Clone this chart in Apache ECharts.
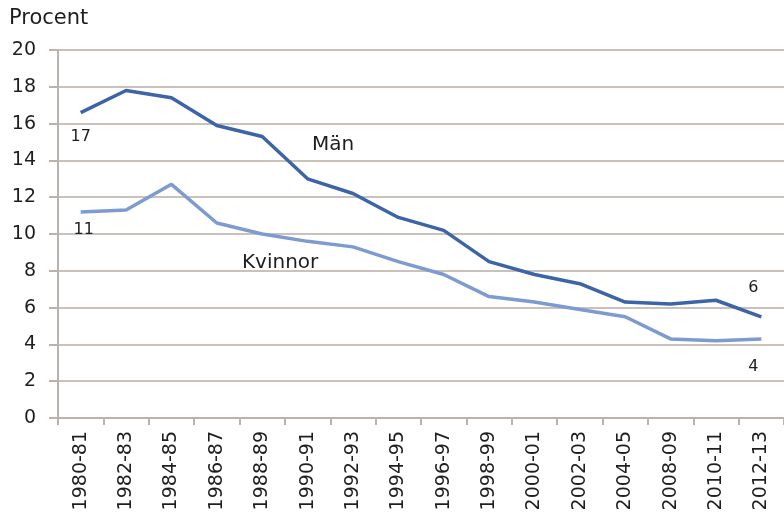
<!DOCTYPE html>
<html>
<head>
<meta charset="utf-8">
<script src="https://cdn.jsdelivr.net/npm/echarts@6/dist/echarts.min.js"></script>
<style>
  html, body { margin: 0; padding: 0; background: #fff; }
  #chart { width: 784px; height: 516px; }
</style>
</head>
<body>
<div id="chart"></div>
<script>
// perioder
const periods = ['1980-81', '1982-83', '1984-85', '1986-87', '1988-89', '1990-91', '1992-93', '1994-95',
  '1996-97', '1998-99', '2000-01', '2002-03', '2004-05', '2008-09', '2010-11', '2012-13'];
// andel i procent
const man = [16.6, 17.8, 17.4, 15.9, 15.3, 13.0, 12.2, 10.9, 10.2, 8.5, 7.8, 7.3, 6.3, 6.2, 6.4, 5.5];
const kvinnor = [11.2, 11.3, 12.7, 10.6, 10.0, 9.6, 9.3, 8.5, 7.8, 6.6, 6.3, 5.9, 5.5, 4.3, 4.2, 4.3];
const yTicks = ['0', '2', '4', '6', '8', '10', '12', '14', '16', '18', '20'];

const font = 'DejaVu Sans, Arial, sans-serif';
const txt = '#1e1e1e';

(function () {
  let myChart = echarts.init(document.getElementById('chart'));

  // etiketter vid första och sista punkten
  function withEnds(arr, first, last) {
    return arr.map(function (v, i) {
      if (i === 0) {
        return { value: v, label: Object.assign({ show: true, position: 'bottom', color: txt, fontSize: 16, fontFamily: font }, first) };
      }
      if (i === arr.length - 1) {
        return { value: v, label: Object.assign({ show: true, color: txt, fontSize: 16, fontFamily: font }, last) };
      }
      return v;
    });
  }

  const option = {
    animation: false,
    grid: { left: 58, right: 0, top: 50, bottom: 98 },
    xAxis: {
      type: 'category',
      data: periods,
      boundaryGap: true,
      axisLine: { lineStyle: { color: '#b9b2ad', width: 2 } },
      axisTick: { show: true, length: 7, lineStyle: { color: '#b9b2ad', width: 2 } },
      axisLabel: { rotate: 90, interval: 0, margin: 13, color: txt, fontSize: 19, fontFamily: font }
    },
    yAxis: {
      type: 'value',
      min: 0,
      max: 20,
      interval: 2,
      axisLine: { show: true, lineStyle: { color: '#b9b2ad', width: 2 } },
      axisTick: { show: true, length: 9, lineStyle: { color: '#b9b2ad', width: 2 } },
      axisLabel: {
        margin: 22, color: txt, fontSize: 19, fontFamily: font,
        formatter: function (v) { return yTicks[v / 2]; }
      },
      splitLine: { lineStyle: { color: '#c9c1bb', width: 2 } }
    },
    graphic: [
      { type: 'text', left: 9, top: 8, style: { text: 'Procent', fill: txt, font: '21px ' + font } },
      { type: 'text', left: 312, top: 135, style: { text: 'Män', fill: txt, font: '20px ' + font } },
      { type: 'text', left: 242, top: 253, style: { text: 'Kvinnor', fill: txt, font: '20px ' + font } }
    ],
    series: [
      {
        name: 'Män',
        type: 'line',
        data: withEnds(man, { formatter: '17', distance: 16 }, { formatter: '6', position: 'top', distance: 21, offset: [-8, 0] }),
        symbol: 'circle',
        symbolSize: 0,
        showAllSymbol: true,
        lineStyle: { color: '#3d64a6', width: 3.5 }
      },
      {
        name: 'Kvinnor',
        type: 'line',
        data: withEnds(kvinnor, { formatter: '11', distance: 10, offset: [3, 0] }, { formatter: '4', position: 'bottom', distance: 20, offset: [-8, 0] }),
        symbol: 'circle',
        symbolSize: 0,
        showAllSymbol: true,
        lineStyle: { color: '#7d9bd0', width: 3.5 }
      }
    ]
  };
  myChart.setOption(option);
})();
</script>
</body>
</html>
